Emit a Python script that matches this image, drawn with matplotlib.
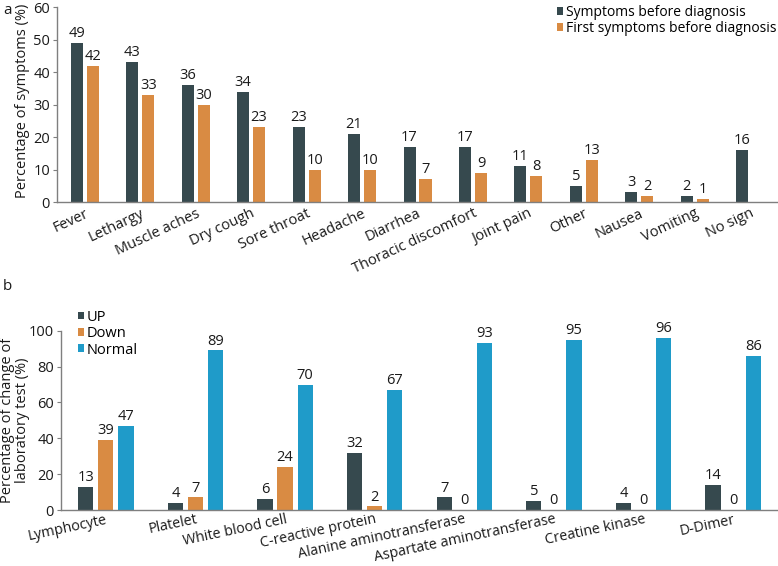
import numpy as np
import matplotlib
matplotlib.use("Agg")
import matplotlib.pyplot as plt

plt.rcParams['font.family'] = ['Open Sans', 'DejaVu Sans']
plt.rcParams['font.size'] = 10

# --- DATA: panel a ---
symptoms = ["Fever", "Lethargy", "Muscle aches", "Dry cough", "Sore throat", "Headache",
            "Diarrhea", "Thoracic discomfort", "Joint pain", "Other", "Nausea", "Vomiting", "No sign"]
sym_before = [49, 43, 36, 34, 23, 21, 17, 17, 11, 5, 3, 2, 16]
sym_first = [42, 33, 30, 23, 10, 10, 7, 9, 8, 13, 2, 1, None]

# --- DATA: panel b ---
tests = ["Lymphocyte", "Platelet", "White blood cell", "C-reactive protein",
         "Alanine aminotransferase", "Aspartate aminotransferase", "Creatine kinase", "D-Dimer"]
lab_up = [13, 4, 6, 32, 7, 5, 4, 14]
lab_down = [39, 7, 24, 2, 0, 0, 0, 0]
lab_normal = [47, 89, 70, 67, 93, 95, 96, 86]

DARK = "#36494e"
ORANGE = "#d98b43"
BLUE = "#1f9bc9"
AXIS = "#7f7f7f"
TXT = "#1a1a1a"

fig = plt.figure(figsize=(7.78, 5.66), dpi=100)


def style_axis(ax, xpad=3):
    for s in ["top", "right"]:
        ax.spines[s].set_visible(False)
    for s in ["left", "bottom"]:
        ax.spines[s].set_color(AXIS)
        ax.spines[s].set_linewidth(1.0)
    ax.tick_params(axis="x", length=0, pad=xpad, colors=TXT)
    ax.tick_params(axis="y", length=3, pad=2, color=AXIS, colors=TXT, labelsize=10.5)


def label_bars(ax, bars, vals):
    for b, v in zip(bars, vals):
        if v is None:
            continue
        ax.text(b.get_x() + b.get_width() / 2, b.get_height() + 0.01 * ax.get_ylim()[1],
                str(v), ha="center", va="bottom", fontsize=10.5, color=TXT)


# ---- panel a ----
ax1 = fig.add_axes([0.0733, 0.643, 0.9267, 0.3446])
x = np.arange(len(symptoms))
w = 0.217
off = 0.144
b1 = ax1.bar(x - off, sym_before, w, color=DARK, label="Symptoms before diagnosis")
xf = [xi + off for xi, v in zip(x, sym_first) if v is not None]
yf = [v for v in sym_first if v is not None]
b2 = ax1.bar(xf, yf, w, color=ORANGE, label="First symptoms before diagnosis")
ax1.set_ylim(0, 60)
ax1.set_xlim(-0.5, len(symptoms) - 0.5)
ax1.set_yticks(range(0, 61, 10))
ax1.set_xticks(x)
ax1.set_xticklabels(symptoms, rotation=25, ha="right", rotation_mode="anchor", fontsize=10.5)
ax1.set_ylabel("Percentage of symptoms (%)", fontsize=10.5, color=TXT)
ax1.yaxis.set_label_coords(-0.037, 0.52)
style_axis(ax1)
label_bars(ax1, b1, sym_before)
label_bars(ax1, b2, yf)
ax1.legend(loc="upper right", bbox_to_anchor=(1.005, 1.04), frameon=False, fontsize=10,
           handlelength=0.45, handleheight=0.45, handletextpad=0.15, labelspacing=0.1,
           borderaxespad=0)

# ---- panel b ----
ax2 = fig.add_axes([0.0784, 0.0989, 0.9216, 0.3168])
x2 = np.arange(len(tests))
w2 = 0.17
off2 = 0.224
c1 = ax2.bar(x2 - off2, lab_up, w2, color=DARK, label="UP")
c2 = ax2.bar(x2, lab_down, w2, color=ORANGE, label="Down")
c3 = ax2.bar(x2 + off2, lab_normal, w2, color=BLUE, label="Normal")
ax2.set_ylim(0, 100)
ax2.set_xlim(-0.5, len(tests) - 0.5)
ax2.set_yticks(range(0, 101, 20))
ax2.set_xticks(x2)
ax2.set_xticklabels(tests, rotation=12, ha="right", rotation_mode="anchor", fontsize=10.3)
ax2.set_ylabel("Percentage of change of\nlaboratory test (%)", fontsize=10.5, color=TXT,
               linespacing=1.05)
ax2.yaxis.set_label_coords(-0.043, 0.5)
style_axis(ax2, xpad=1.5)
for bars, vals in [(c1, lab_up), (c2, lab_down), (c3, lab_normal)]:
    label_bars(ax2, bars, vals)
ax2.legend(loc="upper left", bbox_to_anchor=(0.015, 1.15), frameon=False, fontsize=10.5,
           handlelength=0.45, handleheight=0.45, handletextpad=0.15, labelspacing=0.1,
           borderaxespad=0)

fig.text(0.004, 0.975, "a", fontsize=11, color=TXT)
fig.text(0.004, 0.488, "b", fontsize=11, color=TXT)

fig.savefig("out.png", dpi=100)
